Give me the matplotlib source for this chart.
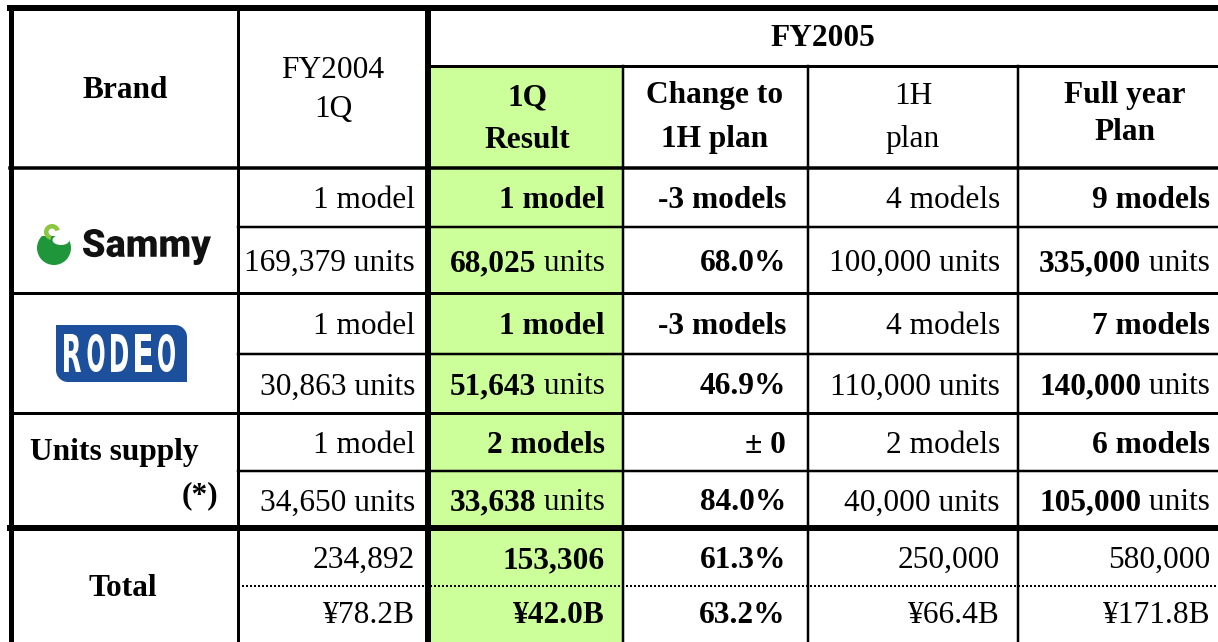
import numpy as np
import matplotlib
matplotlib.use("Agg")
from matplotlib import pyplot as plt
from matplotlib.patches import Rectangle, Polygon, Wedge, Circle, Ellipse, PathPatch
from matplotlib.textpath import TextPath
from matplotlib.font_manager import FontProperties
from matplotlib.transforms import Affine2D

#### Dati della tabella ####
brands = ["Sammy", "RODEO", "Units supply"]
fy2004_models = ["1 model", "1 model", "1 model"]
fy2004_units = ["169,379", "30,863", "34,650"]
q1_models = ["1 model", "1 model", "2 models"]
q1_units = ["68,025", "51,643", "33,638"]
change_models = ["-3 models", "-3 models", "\u00b1 0"]
change_units = ["68.0%", "46.9%", "84.0%"]
h1_models = ["4 models", "4 models", "2 models"]
h1_units = ["100,000", "110,000", "40,000"]
fy_models = ["9 models", "7 models", "6 models"]
fy_units = ["335,000", "140,000", "105,000"]
total_units = ["234,892", "153,306", "61.3%", "250,000", "580,000"]
total_sales = ["\u00a578.2B", "\u00a542.0B", "63.2%", "\u00a566.4B", "\u00a5171.8B"]

#### Layout (pixel) ####
W, H = 1218, 642
col_x = [10, 238, 428, 623, 808, 1018, 1218]
row_y = [168, 227, 293, 354, 413, 471, 528, 586, 642]
col_right = [415, 605, 786, 1000, 1210]
FS = 22.6
SERIF = "Liberation Serif"
GREEN = "#ccff99"

def px(v):
    return v * 0.72

fig = plt.figure(figsize=(W / 100, H / 100), dpi=100)
ax = fig.add_axes([0, 0, 1, 1])
ax.set_xlim(0, W)
ax.set_ylim(H, 0)
ax.axis("off")

# colonna evidenziata
ax.add_patch(Rectangle((col_x[2], 66), col_x[3] - col_x[2], H - 66, color=GREEN, lw=0, zorder=0))

def hline(y, x0, x1, w):
    ax.plot([x0, x1], [y, y], color="black", lw=px(w), solid_capstyle="projecting", zorder=3)

def vline(x, y0, y1, w):
    ax.plot([x, x], [y0, y1], color="black", lw=px(w), solid_capstyle="projecting", zorder=3)

# bordi
hline(8, 10, W, 6)
vline(10.5, 8, H, 5)
vline(col_x[1], 8, H, 3)
vline(col_x[2], 8, H, 6)
for x in col_x[3:6]:
    vline(x, 66, H, 2.5)
hline(66, col_x[2], W, 3)
hline(row_y[0], 10, W, 3.5)
for i in (1, 3, 5):
    hline(row_y[i], col_x[1], W, 2.5)
for i in (2, 4):
    hline(row_y[i], 10, W, 3)
hline(row_y[6], 10, W, 6)
ax.plot([col_x[1], W], [row_y[7], row_y[7]], color="black", lw=px(2), ls=(0, (1, 1)), zorder=3)

def txt(x, y, s, bold=False, ha="right", va="baseline"):
    return ax.text(x, y, s, fontsize=FS, family=SERIF, fontweight="bold" if bold else "normal",
                   ha=ha, va=va, zorder=4)

def mixed(x, y, num, bold_num):
    t = txt(x, y, " units")
    ax.annotate(num, xy=(0, 0), xycoords=t, ha="right", va="bottom", fontsize=FS, family=SERIF,
                fontweight="bold" if bold_num else "normal", zorder=4)

# intestazione
txt(125, 90, "Brand", True, ha="center", va="center")
txt(333, 70, "FY2004", ha="center", va="center")
txt(333, 110, "1Q", ha="center", va="center")
txt(823, 38, "FY2005", True, ha="center", va="center")
txt(527, 98, "1Q", True, ha="center", va="center")
txt(527, 140, "Result", True, ha="center", va="center")
txt(715, 96, "Change to", True, ha="center", va="center")
txt(715, 139, "1H plan", True, ha="center", va="center")
txt(913, 96, "1H", ha="center", va="center")
txt(913, 139, "plan", ha="center", va="center")
txt(1125, 96, "Full year", True, ha="center", va="center")
txt(1125, 132, "Plan", True, ha="center", va="center")

# righe per marchio
for b in range(len(brands)):
    ym = (row_y[2 * b] + row_y[2 * b + 1]) / 2 + 11
    yu = (row_y[2 * b + 1] + row_y[2 * b + 2]) / 2 + 11
    txt(col_right[0], ym, fy2004_models[b])
    txt(col_right[1], ym, q1_models[b], True)
    txt(col_right[2], ym, change_models[b], True)
    txt(col_right[3], ym, h1_models[b])
    txt(col_right[4], ym, fy_models[b], True)
    txt(col_right[0], yu, fy2004_units[b] + " units")
    mixed(col_right[1], yu, q1_units[b], True)
    txt(col_right[2], yu, change_units[b], True)
    txt(col_right[3], yu, h1_units[b] + " units")
    mixed(col_right[4], yu, fy_units[b], True)

# totale
bold_tot = [False, True, True, False, False]
yt1 = (row_y[6] + row_y[7]) / 2 + 11
yt2 = (row_y[7] + row_y[8]) / 2 + 9
for c in range(5):
    txt(col_right[c], yt1, total_units[c], bold_tot[c])
    txt(col_right[c], yt2, total_sales[c], bold_tot[c])
txt(123, 588, "Total", True, ha="center", va="center")
txt(30, 460, brands[2], True, ha="left")
txt(218, 503, "(*)", True)

# loghi
def fit_text(s, box, color, **kw):
    tp = TextPath((0, 0), s, size=100, prop=FontProperties(**kw))
    bb = tp.get_extents()
    x0, y0, x1, y1 = box
    tr = Affine2D().translate(-bb.x0, -bb.y1).scale((x1 - x0) / bb.width, -(y1 - y0) / bb.height).translate(x0, y0)
    ax.add_patch(PathPatch(tr.transform_path(tp), color=color, lw=0, zorder=7))

# Sammy
ax.add_patch(Circle((54, 248), 17, color="#1e9639", lw=0, zorder=5))
ax.add_patch(Rectangle((30, 226), 50, 10, color="white", lw=0, zorder=5))
ax.add_patch(Ellipse((61, 240), 17, 10, color="white", lw=0, zorder=5))
ax.add_patch(Wedge((52, 232), 8, 100, 345, width=4.5, color="#8cc63f", lw=0, zorder=6))
fit_text(brands[0], (83, 229, 211, 265), "#111111", family="Roboto", weight=900)

# RODEO
x0, y0, x1, y1, r = 56, 325, 187, 382, 12
a1 = np.radians(np.linspace(90, 0, 12))
a2 = np.radians(np.linspace(270, 180, 12))
pts = [(x0, y0)] + [(x1 - r + r * np.cos(a), y0 + r - r * np.sin(a)) for a in a1] + [(x1, y1)] \
      + [(x0 + r + r * np.cos(a), y1 - r - r * np.sin(a)) for a in a2]
ax.add_patch(Polygon(pts, closed=True, color="#1c4f9c", lw=0, zorder=5))
for k, ch in enumerate(brands[1]):
    lx = 64 + k * 23.5
    fit_text(ch, (lx, 334, lx + 17, 372), "white", family="DejaVu Sans", weight="bold")

fig.savefig("out.png", dpi=100)
